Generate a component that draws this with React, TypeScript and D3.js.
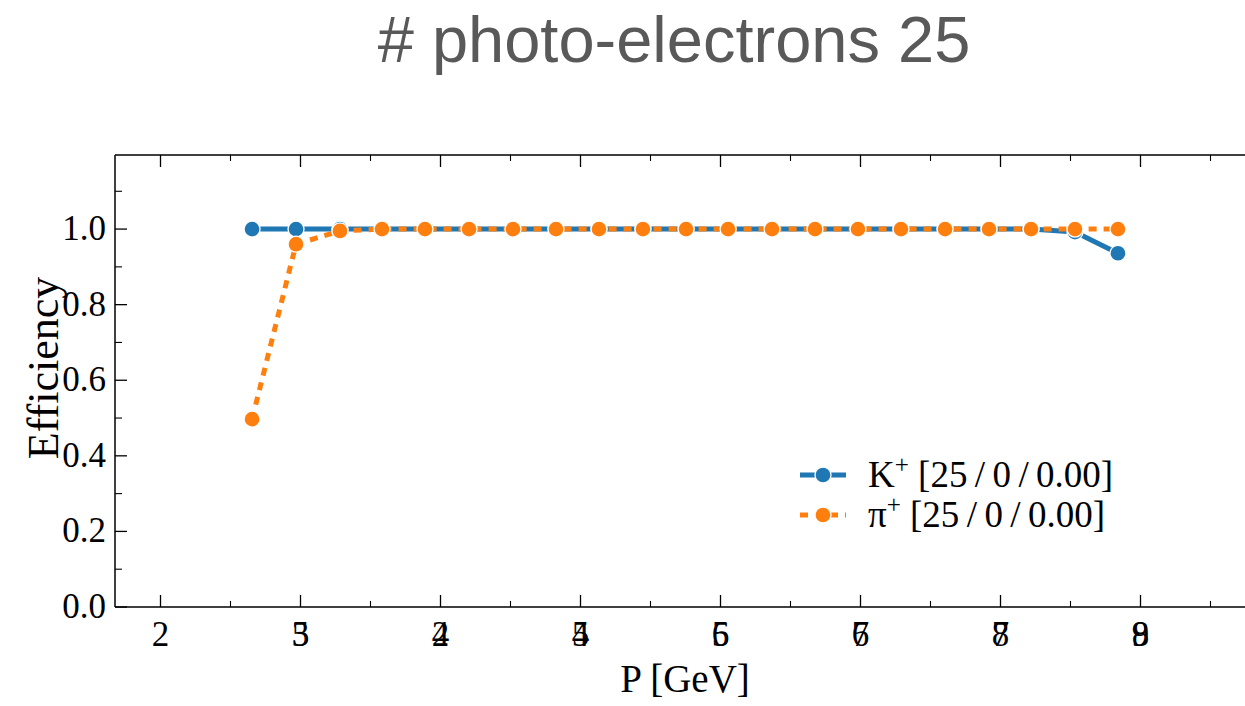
import React from 'react';
import * as d3 from 'd3';

const momentum = [2.654, 2.968, 3.282, 3.582, 3.889, 4.204, 4.518, 4.825, 5.132, 5.446, 5.754, 6.054, 6.368, 6.675, 6.982, 7.289, 7.604, 7.918, 8.218, 8.532, 8.839];
const kaonEff = [1.0, 1.0, 1.0, 1.0, 1.0, 1.0, 1.0, 1.0, 1.0, 1.0, 1.0, 1.0, 1.0, 1.0, 1.0, 1.0, 1.0, 1.0, 1.0, 0.992, 0.936];
const pionEff = [0.497, 0.96, 0.995, 1.0, 1.0, 1.0, 1.0, 1.0, 1.0, 1.0, 1.0, 1.0, 1.0, 1.0, 1.0, 1.0, 1.0, 1.0, 1.0, 1.0, 1.0];

const xMajorTicks = [2, 3, 4, 5, 6, 7, 8, 9];
const xTickLabels = ['2', '3', '4', '5', '6', '7', '8', '9'];
const xOverlayLabels = ['', '5', '2', '4', '5', '6', '7', '8'];
const xMinorTicks = [2.5, 3.5, 4.5, 5.5, 6.5, 7.5, 8.5, 9.5];
const yMajorTicks = [0, 0.2, 0.4, 0.6, 0.8, 1.0];
const yMinorTicks = [0.1, 0.3, 0.5, 0.7, 0.9, 1.1];

const seriesNames = ['K', 'π'];
const legendSuffix = '[25\u2009/\u20090\u2009/\u20090.00]';
const title = '# photo-electrons 25';

const W = 1245;
const H = 706;
const L = 115;
const T = 155;
const B = 607;
const SERIF = '"Liberation Serif", "DejaVu Serif", serif';
const BLUE = '#1f77b4';
const ORANGE = '#ff7f0e';

export default function App() {
  const x = d3.scaleLinear().domain([1.675, 9.8]).range([L, L + 8.125 * 140]);
  const y = d3.scaleLinear().domain([0, 1.196]).range([B, T]);
  const line = d3.line<[number, number]>().x((d) => x(d[0])).y((d) => y(d[1]));
  const kData = momentum.map((m, i) => [m, kaonEff[i]] as [number, number]);
  const pData = momentum.map((m, i) => [m, pionEff[i]] as [number, number]);
  const right = W + 20;

  return (
    <svg width={W} height={H} style={{ position: 'absolute', left: 0, top: 0, background: '#fff' }}>
      <rect x={0} y={0} width={W} height={H} fill="#fff" />
      <text x={674} y={62} textAnchor="middle" fontFamily='"Liberation Sans", Arial, sans-serif' fontSize={65} fill="#595959">{title}</text>

      {/* spines */}
      <line x1={L} y1={T} x2={right} y2={T} stroke="#000" strokeWidth={1.5} />
      <line x1={L} y1={B} x2={right} y2={B} stroke="#000" strokeWidth={1.5} />
      <line x1={L} y1={T} x2={L} y2={B} stroke="#000" strokeWidth={1.5} />

      {/* x ticks */}
      {xMajorTicks.map((t, i) => (
        <g key={'xt' + t}>
          <line x1={x(t)} x2={x(t)} y1={B} y2={B - 12} stroke="#000" strokeWidth={1.3} />
          <line x1={x(t)} x2={x(t)} y1={T} y2={T + 12} stroke="#000" strokeWidth={1.3} />
          <text x={x(t)} y={646} textAnchor="middle" fontFamily={SERIF} fontSize={35} fill="#000">{xTickLabels[i]}</text>
          {xOverlayLabels[i] && (
            <text x={x(t)} y={646} textAnchor="middle" fontFamily={SERIF} fontSize={35} fill="#000">{xOverlayLabels[i]}</text>
          )}
        </g>
      ))}
      {xMinorTicks.map((t) => (
        <g key={'xm' + t}>
          <line x1={x(t)} x2={x(t)} y1={B} y2={B - 6} stroke="#000" strokeWidth={1.1} />
          <line x1={x(t)} x2={x(t)} y1={T} y2={T + 6} stroke="#000" strokeWidth={1.1} />
        </g>
      ))}

      {/* y ticks */}
      {yMajorTicks.map((t) => (
        <g key={'yt' + t}>
          <line x1={L} x2={L + 12} y1={y(t)} y2={y(t)} stroke="#000" strokeWidth={1.3} />
          <text x={106} y={y(t) + 11} textAnchor="end" fontFamily={SERIF} fontSize={35} fill="#000">{d3.format('.1f')(t)}</text>
        </g>
      ))}
      {yMinorTicks.map((t) => (
        <line key={'ym' + t} x1={L} x2={L + 7} y1={y(t)} y2={y(t)} stroke="#000" strokeWidth={1.1} />
      ))}

      {/* axis labels */}
      <text x={685} y={692} textAnchor="middle" fontFamily={SERIF} fontSize={39} fill="#000">P [GeV]</text>
      <text transform={`translate(58, 368) rotate(-90)`} textAnchor="middle" fontFamily={SERIF} fontSize={44} fill="#000">Efficiency</text>

      {/* series */}
      <path d={line(kData) || ''} fill="none" stroke={BLUE} strokeWidth={5} strokeLinejoin="round" />
      {kData.map((d, i) => (
        <circle key={'k' + i} cx={x(d[0])} cy={y(d[1])} r={8} fill={BLUE} stroke="#fff" strokeWidth={1.3} />
      ))}
      <path d={line(pData) || ''} fill="none" stroke={ORANGE} strokeWidth={5} strokeDasharray="8,7" />
      {pData.map((d, i) => (
        <circle key={'p' + i} cx={x(d[0])} cy={y(d[1])} r={8} fill={ORANGE} stroke="#fff" strokeWidth={1.3} />
      ))}

      {/* legend */}
      <g>
        <line x1={800} x2={846} y1={475} y2={475} stroke={BLUE} strokeWidth={5} />
        <circle cx={823} cy={475} r={8} fill={BLUE} stroke="#fff" strokeWidth={1.3} />
        <text x={868} y={487} fontFamily={SERIF} fontSize={37} fill="#000">
          {seriesNames[0]}
          <tspan dy={-14} fontSize={25}>+</tspan>
          <tspan dy={14}> {legendSuffix}</tspan>
        </text>
        <line x1={800} x2={846} y1={515} y2={515} stroke={ORANGE} strokeWidth={5} strokeDasharray="8,7" />
        <circle cx={823} cy={515} r={8} fill={ORANGE} stroke="#fff" strokeWidth={1.3} />
        <text x={868} y={527} fontFamily={SERIF} fontSize={37} fill="#000">
          {seriesNames[1]}
          <tspan dy={-14} fontSize={25}>+</tspan>
          <tspan dy={14}> {legendSuffix}</tspan>
        </text>
      </g>
    </svg>
  );
}
